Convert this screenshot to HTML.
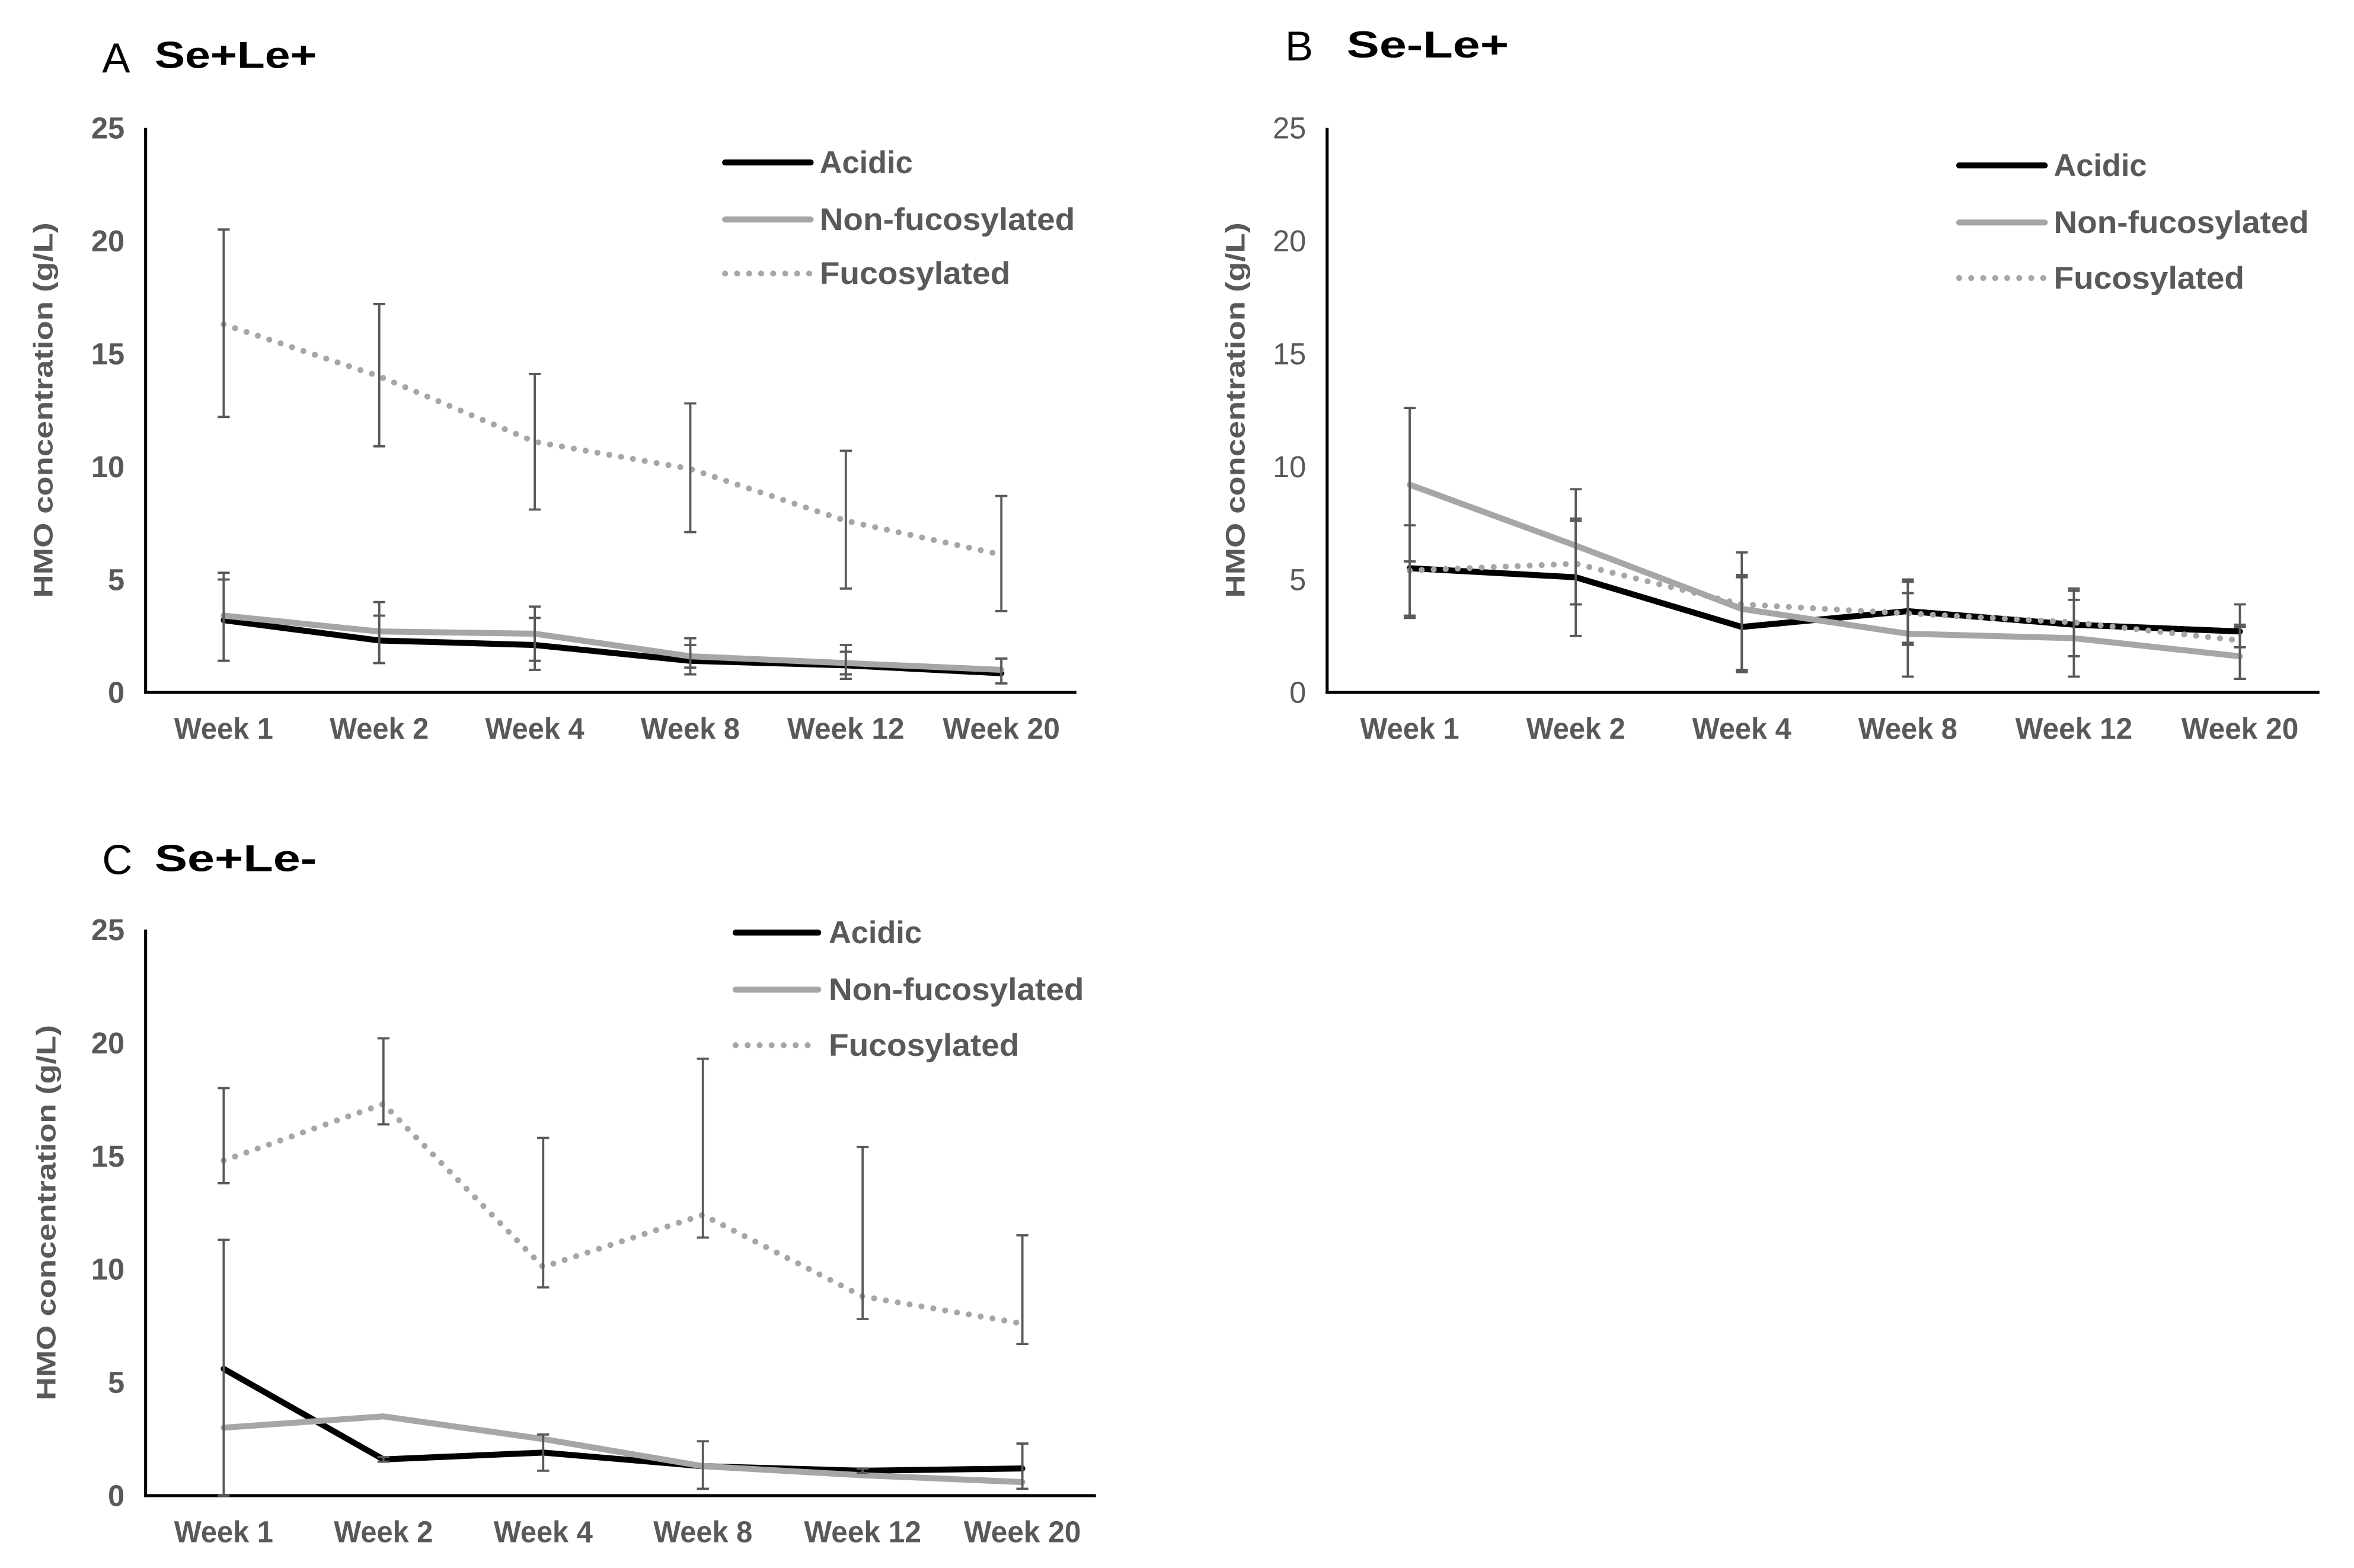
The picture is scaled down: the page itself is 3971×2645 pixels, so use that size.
<!DOCTYPE html>
<html><head><meta charset="utf-8"><style>
html,body{margin:0;padding:0;background:#fff}
svg{display:block}
text{font-family:"Liberation Sans Narrow","Liberation Sans",sans-serif}
</style></head><body>
<svg id="fig" xmlns="http://www.w3.org/2000/svg" width="3971" height="2645" viewBox="0 0 1568 1044"></svg>
<script>
const categories = ["Week 1","Week 2","Week 4","Week 8","Week 12","Week 20"];
const yTicks = [0,5,10,15,20,25];
const seriesNames = ["Acidic","Non-fucosylated","Fucosylated"];

const aAcidic = [3.2,2.3,2.1,1.4,1.2,0.85];
const aAcidicLo = [1.4,1.3,1.0,0.8,0.6,0.4];
const aAcidicHi = [5.0,3.4,3.3,2.1,1.8,1.5];
const aNonfuc = [3.4,2.7,2.6,1.6,1.3,1.0];
const aNonfucLo = [1.4,1.3,1.4,1.1,0.8,0.4];
const aNonfucHi = [5.3,4.0,3.8,2.4,2.1,1.5];
const aFuc = [16.3,14.0,11.1,9.9,7.6,6.1];
const aFucLo = [12.2,10.9,8.1,7.1,4.6,3.6];
const aFucHi = [20.5,17.2,14.1,12.8,10.7,8.7];

const bAcidic = [5.5,5.1,2.9,3.6,3.0,2.7];
const bAcidicLo = [3.4,3.9,0.9,2.2,1.6,2.0];
const bAcidicHi = [7.4,7.6,5.2,4.4,4.6,3.0];
const bNonfuc = [9.2,6.5,3.7,2.6,2.4,1.6];
const bNonfucLo = [5.8,3.9,1.0,0.7,0.7,0.6];
const bNonfucHi = [12.6,9.0,6.2,5.0,4.1,2.9];
const bFuc = [5.4,5.7,3.9,3.5,3.1,2.3];
const bFucLo = [3.3,2.5,1.0,2.1,1.6,0.6];
const bFucHi = [5.8,7.7,5.1,4.9,4.5,3.9];

const cAcidic = [5.6,1.6,1.9,1.3,1.1,1.2];
const cAcidicLo = [0,1.5,1.1,0.3,1.0,0.3];
const cAcidicHi = [11.3,1.7,2.7,2.4,1.2,2.3];
const cNonfuc = [3.0,3.5,2.5,1.3,0.9,0.6];
const cNonfucLo = [3.0,3.5,2.5,1.3,0.9,0.6];
const cNonfucHi = [3.0,3.5,2.5,1.3,0.9,0.6];
const cFuc = [14.8,17.3,10.1,12.4,8.8,7.6];
const cFucLo = [13.8,16.4,9.2,11.4,7.8,6.7];
const cFucHi = [18.0,20.2,15.8,19.3,15.4,11.5];

const NS="http://www.w3.org/2000/svg";
const svg=document.getElementById('fig');
function mk(tag,attrs,parent){const e=document.createElementNS(NS,tag);for(const k in attrs)e.setAttribute(k,attrs[k]);(parent||svg).appendChild(e);return e;}

const panels=[
 {id:'a',letter:'A',title:'Se+Le+',lx:68,ly:48,tx:103,ty:45,x0:97,y0:461,yTop:85,xR:717,xs:149,xe:667,boldTicks:true,ytx:28,leg:[483,540,108,146,182,546],
  d:[[aAcidic,aAcidicLo,aAcidicHi],[aNonfuc,aNonfucLo,aNonfucHi],[aFuc,aFucLo,aFucHi]]},
 {id:'b',letter:'B',title:'Se-Le+',lx:856,ly:40,tx:897,ty:38,x0:884,y0:461,yTop:85,xR:1545,xs:939,xe:1492,boldTicks:false,ytx:822,leg:[1305,1362,110,148,185,1368],
  d:[[bAcidic,bAcidicLo,bAcidicHi],[bNonfuc,bNonfucLo,bNonfucHi],[bFuc,bFucLo,bFucHi]]},
 {id:'c',letter:'C',title:'Se+Le-',lx:68,ly:582,tx:103,ty:580,x0:97,y0:996,yTop:619,xR:730,xs:149,xe:681,boldTicks:true,ytx:30,leg:[490,545,621,659,696,552],
  d:[[cAcidic,cAcidicLo,cAcidicHi],[cNonfuc,cNonfucLo,cNonfucHi],[cFuc,cFucLo,cFucHi]]}
];
const styles=[
 {stroke:'#000',w:4,dash:null},
 {stroke:'#a6a6a6',w:4,dash:null},
 {stroke:'#a6a6a6',w:4,dash:'0 8'}
];

panels.forEach(p=>{
  const g=mk('g',{});
  
  
  const yS=v=>p.y0-(v/25)*(p.y0-p.yTop);
  const xS=i=>p.xs+i*(p.xe-p.xs)/(categories.length-1);
  const l=mk('text',{x:p.lx,y:p.ly,'font-size':28,fill:'#000','font-family':'Liberation Sans, sans-serif'},g);l.textContent=p.letter;
  
  const t=mk('text',{x:p.tx,y:p.ty,'font-size':25,'font-weight':'bold',fill:'#000',textLength:108,lengthAdjust:'spacingAndGlyphs'},g);t.textContent=p.title;
  
  // axes
  const ya=mk('line',{x1:p.x0,y1:p.yTop,x2:p.x0,y2:p.y0+1,stroke:'#000','stroke-width':2},g);
  
  const xa=mk('line',{x1:p.x0-1,y1:p.y0,x2:p.xR,y2:p.y0,stroke:'#000','stroke-width':2},g);
  
  yTicks.forEach(v=>{
    const tt=mk('text',{x:p.x0-14,y:yS(v)+7,'font-size':20,'text-anchor':'end',fill:'#595959','font-weight':p.boldTicks?'bold':'normal'},g);
    tt.textContent=v;
    
  });
  categories.forEach((c,i)=>{
    const tt=mk('text',{x:xS(i),y:p.y0+31,'font-size':20,'text-anchor':'middle',fill:'#595959','font-weight':'bold',textLength:c.length>6?78:66,lengthAdjust:'spacingAndGlyphs'},g);
    tt.textContent=c;
    
  });
  const ym=(p.y0+p.yTop)/2;
  const yt=mk('text',{x:p.ytx+7,y:ym,'font-size':18,'font-weight':'bold',fill:'#595959','text-anchor':'middle',transform:`rotate(-90 ${p.ytx+7} ${ym})`,textLength:250,lengthAdjust:'spacingAndGlyphs','font-family':'Liberation Sans, sans-serif'},g);
  yt.textContent='HMO concentration (g/L)';
  
  // series lines (draw fucosylated, nonfuc, acidic order similar to Excel: acidic first)
  p.d.forEach((s,si)=>{
    const st=styles[si];
    const pts=s[0].map((v,i)=>xS(i)+','+yS(v)).join(' ');
    const a={points:pts,fill:'none',stroke:st.stroke,'stroke-width':st.w,'stroke-linejoin':'round','stroke-linecap':'round'};
    if(st.dash)a['stroke-dasharray']=st.dash;
    const pl=mk('polyline',a,g);
    
    
  });
  p.d.forEach((s,si)=>{
    s[0].forEach((v,i)=>{
      const lo=s[1][i],hi=s[2][i];
      if(hi-lo<0.05)return;
      const x=xS(i);
      const eb=mk('path',{d:`M${x},${yS(lo)}V${yS(hi)}M${x-4},${yS(lo)}H${x+4}M${x-4},${yS(hi)}H${x+4}`,stroke:'#595959','stroke-width':1.5,fill:'none'},g);
      
    });
  });
  // legend
  const L=p.leg;
  [L[2],L[3],L[4]].forEach((yy,si)=>{
    const st=styles[si];
    const a={x1:L[0],y1:yy,x2:L[1],y2:yy,stroke:st.stroke,'stroke-width':st.w,'stroke-linecap':'round'};
    if(st.dash)a['stroke-dasharray']=st.dash;
    const ll=mk('line',a,g);
    
    const widths=[62,170,127];
    const lt=mk('text',{x:L[5],y:yy+7,'font-size':21,'font-weight':'bold',fill:'#595959',textLength:widths[si],lengthAdjust:'spacingAndGlyphs'},g);
    lt.textContent=seriesNames[si];
    
  });
});
</script>
</body></html>
